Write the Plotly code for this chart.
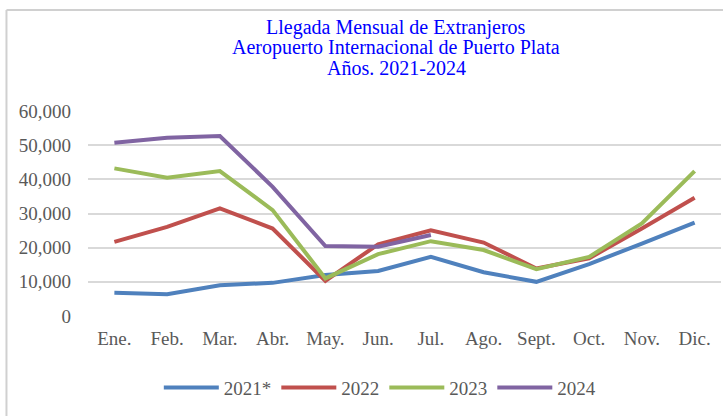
import plotly.graph_objs as go

# datos
meses = ['Ene.', 'Feb.', 'Mar.', 'Abr.', 'May.', 'Jun.', 'Jul.', 'Ago.', 'Sept.', 'Oct.', 'Nov.', 'Dic.']
llegadas_2021 = [6800, 6400, 9000, 9700, 12000, 13200, 17300, 12800, 10000, 15200, 21200, 27300]
llegadas_2022 = [21700, 26100, 31500, 25600, 10300, 21000, 25100, 21500, 13900, 16900, 25600, 34600]
llegadas_2023 = [43200, 40500, 42400, 31000, 11000, 18100, 21900, 19300, 13700, 17300, 27100, 42400]
llegadas_2024 = [50700, 52200, 52700, 37800, 20500, 20300, 23700]
nombres = ['2021*', '2022', '2023', '2024']
colores = ['#4F81BD', '#C0504D', '#9BBB59', '#8064A2']
titulo = ['Llegada Mensual de Extranjeros',
          'Aeropuerto Internacional de Puerto Plata',
          'Años. 2021-2024']

fuente = 'Liberation Serif'
gris = '#595959'

fig = go.Figure()
for nombre, valores, color in zip(nombres, [llegadas_2021, llegadas_2022, llegadas_2023, llegadas_2024], colores):
    fig.add_trace(go.Scatter(x=meses[:len(valores)], y=valores, name=nombre, mode='lines',
                             line=dict(color=color, width=4)))

# título en tres líneas, centrado sobre el gráfico
for i, linea in enumerate(titulo):
    fig.add_annotation(text=linea, xref='paper', yref='paper', x=0.487, y=1.409 - i * 0.1,
                       xanchor='center', yanchor='middle', showarrow=False,
                       font=dict(family=fuente, size=20, color='#0000FF'))

fig.update_layout(
    width=723, height=416,
    margin=dict(l=88, r=2, t=111, b=100, autoexpand=False),
    plot_bgcolor='white', paper_bgcolor='white',
    font=dict(family=fuente, size=18, color=gris),
    xaxis=dict(showgrid=False, showline=False, ticks='', ticklabelstandoff=9, automargin=False,
               range=[-0.5, 11.5], categoryorder='array', categoryarray=meses,
               tickfont=dict(family=fuente, size=19, color=gris)),
    yaxis=dict(range=[0, 60000], dtick=10000, tickformat=',', showgrid=True, automargin=False,
               gridcolor='#D9D9D9', gridwidth=1.5, zeroline=False, showline=False,
               ticklabelstandoff=16, tickfont=dict(family=fuente, size=19, color=gris)),
    showlegend=True,
    legend=dict(orientation='h', x=0.461, xanchor='center', y=-0.35, yanchor='middle',
                font=dict(family=fuente, size=19, color=gris), itemwidth=55),
    # marco gris del gráfico (arriba e izquierda)
    shapes=[
        dict(type='line', xref='paper', yref='paper', x0=-0.1288, x1=1.01, y0=1.493, y1=1.493,
             line=dict(color='#D0D0D0', width=2)),
        dict(type='line', xref='paper', yref='paper', x0=-0.1288, x1=-0.1288, y0=1.493, y1=-0.6,
             line=dict(color='#D0D0D0', width=2)),
    ],
)

# sin margen del body para que la figura ocupe toda la ventana
fig.write_html("out.html", config={'displayModeBar': False},
               post_script="document.body.style.margin='0';")
